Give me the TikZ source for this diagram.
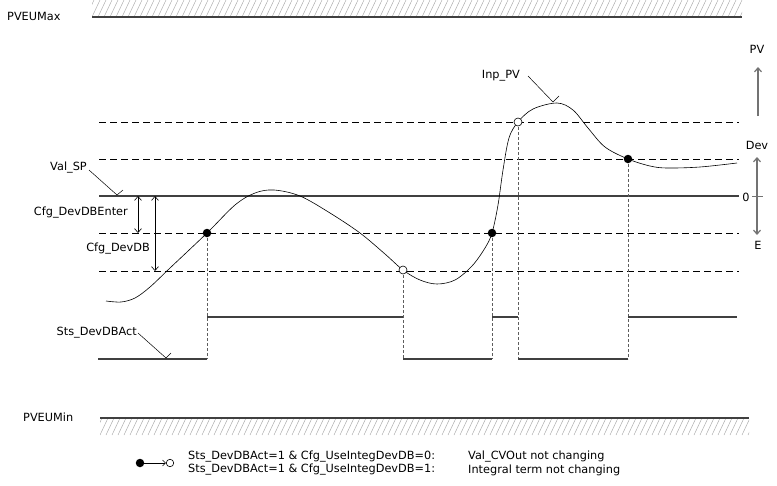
\documentclass[tikz,border=0pt]{standalone}
\usepackage{fontspec}
\setmainfont{DejaVu Sans}
\usetikzlibrary{arrows.meta}
\definecolor{dk}{RGB}{64,64,64}
\definecolor{hatchc}{RGB}{175,175,175}
\definecolor{axisg}{RGB}{115,115,115}
\begin{document}
\begin{tikzpicture}[x=1pt,y=-1pt,
  lbl/.style={inner sep=0pt, font=\fontsize{11.3}{13}\selectfont},
  solidln/.style={draw=dk, line width=1.8pt},
  stepln/.style={draw=dk, line width=1.5pt},
  dashln/.style={draw=black, line width=0.7pt, dash pattern=on 7pt off 4pt},
  vdash/.style={draw=dk!85, line width=0.7pt, dash pattern=on 3pt off 2pt},
  leader/.style={draw=black, line width=0.5pt},
  curve/.style={draw=black, line width=0.6pt},
  fdot/.style={circle, fill=black, inner sep=0pt, minimum size=8.5pt},
  odot/.style={circle, draw=black, fill=white, inner sep=0pt, minimum size=8pt, line width=0.6pt},
  dimarr/.style={draw=black, line width=0.6pt, {Straight Barb[length=4pt,width=7pt]}-{Straight Barb[length=4pt,width=7pt]}},
  axarr/.style={draw=axisg, line width=1.2pt, -{Straight Barb[length=4pt,width=7pt]}},
  axarr2/.style={draw=axisg, line width=1.2pt, {Straight Barb[length=4pt,width=7pt]}-{Straight Barb[length=4pt,width=7pt]}},
  hatchln/.style={draw=hatchc, line width=0.5pt},
]
\useasboundingbox (0,0) rectangle (777,485);

% ---- limit bands ----
\begin{scope}
  \clip (92,0) rectangle (742,17);
  \foreach \x in {80,86,...,750} \draw[hatchln] (\x,17) -- (\x+8,0);
\end{scope}
\draw[draw=dk, line width=1.2pt] (92,17) -- (742,17);
\begin{scope}
  \clip (100,418) rectangle (749,435);
  \foreach \x in {88,94,...,756} \draw[hatchln] (\x,435) -- (\x+8,418);
\end{scope}
\draw[draw=dk, line width=1.2pt] (100,418) -- (749,418);

\node[lbl, anchor=west] (pvmax) at (7,16) {PVEUMax};
\node[lbl, anchor=west] (pvmin) at (23,417) {PVEUMin};

% ---- reference lines ----
\draw[dashln] (99,122) -- (739,122);
\draw[dashln] (99,159) -- (739,159);
\draw[solidln] (99,196) -- (739,196);
\draw[dashln] (99,233) -- (739,233);
\draw[dashln] (99,271) -- (739,271);

% ---- vertical dashed drop lines ----
\draw[vdash] (207,233) -- (207,359);
\draw[vdash] (403,270) -- (403,359);
\draw[vdash] (492,233) -- (492,359);
\draw[vdash] (518,122) -- (518,359);
\draw[vdash] (628,159) -- (628,359);

% ---- status signal ----
\draw[stepln] (98,359) -- (207,359);
\draw[stepln] (207,317) -- (403,317);
\draw[stepln] (403,359) -- (492,359);
\draw[stepln] (492,317) -- (518,317);
\draw[stepln] (518,359) -- (628,359);
\draw[stepln] (628,317) -- (737,317);

% ---- PV curve ----
\draw[curve] plot[smooth, tension=0.55] coordinates {
  (106,301) (121,302) (135,298) (150,287) (170,268) (207,233) (235,205)
  (255,193) (274,190) (300,196) (330,213) (360,233) (385,254) (403,270)
  (420,280) (437,284) (455,280) (472,266) (485,248) (492,233) (498,205)
  (503,170) (509,138) (518,122) (533,109) (557,103) (573,110) (588,128)
  (605,147) (628,159) (650,166) (667,168) (700,167) (737,163)};

% ---- switching points ----
\node[fdot] (p1) at (207,233) {};
\node[odot] (p2) at (403,270) {};
\node[fdot] (p3) at (492,233) {};
\node[odot] (p4) at (518,122) {};
\node[fdot] (p5) at (628,159) {};

% ---- labels with leaders ----
\node[lbl, anchor=east] (valsp) at (87,168) {Val\_SP};
\coordinate (valspE) at (117,195);
\draw[leader] (valsp.east) ++(2,2) -- (valspE) -- ++(6,-5);

\node[lbl, anchor=east] (sts) at (137,333) {Sts\_DevDBAct};
\coordinate (stsE) at (166,358);
\draw[leader] (sts.east) ++(1,0) -- (stsE) -- ++(5,-5);

\node[lbl, anchor=east] (inppv) at (520,76) {Inp\_PV};
\coordinate (inppvE) at (553,102);
\draw[leader] (inppv.east) ++(8,0) -- (inppvE) -- ++(6,-6);

% ---- deadband dimensions ----
\node[lbl, anchor=east] (enter) at (128,213) {Cfg\_DevDBEnter};
\node[lbl, anchor=east] (devdb) at (150,249) {Cfg\_DevDB};
\coordinate (e1) at (138,196);
\coordinate (e2) at (138,233);
\coordinate (d1) at (155,196);
\coordinate (d2) at (155,271);
\draw[dimarr] (e1) -- (e2);
\draw[dimarr] (d1) -- (d2);

% ---- right axis ----
\node[lbl] (pv) at (757,49) {PV};
\node[lbl] (dev) at (757,145) {Dev};
\node[lbl] (zero) at (746,197) {0};
\node[lbl] (ee) at (758,245) {E};
\coordinate (pvb) at (758,116);
\coordinate (pvt) at (758,67);
\draw[axarr] (pvb) -- (pvt);
\coordinate (devt) at (757,157);
\coordinate (devb) at (757,235);
\draw[axarr2] (devb) -- (devt);
\draw[draw=axisg, line width=0.8pt] (752,196) -- (763,196);

% ---- legend ----
\node[fdot] (la) at (140,463) {};
\node[odot, minimum size=7.5pt] (lb) at (170,463) {};
\draw[draw=black, line width=0.6pt, -{Straight Barb[length=3pt,width=6pt]}] (la) -- (lb);
\node[lbl, anchor=west] (l1) at (188,457) {Sts\_DevDBAct=1 \& Cfg\_UseIntegDevDB=0:};
\node[lbl, anchor=west] (l2) at (188,470) {Sts\_DevDBAct=1 \& Cfg\_UseIntegDevDB=1:};
\node[lbl, anchor=west] (l1b) at (468,457) {Val\_CVOut not changing};
\node[lbl, anchor=west] (l2b) at (468,470) {Integral term not changing};
\end{tikzpicture}
\end{document}
